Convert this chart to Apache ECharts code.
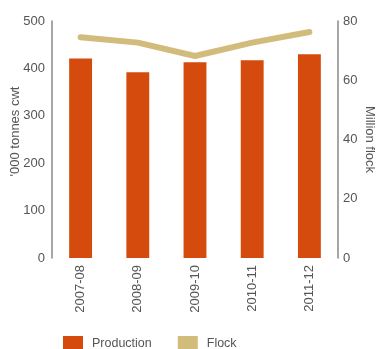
<!DOCTYPE html>
<html>
<head>
<meta charset="utf-8">
<script src="https://cdn.jsdelivr.net/npm/echarts@6/dist/echarts.min.js"></script>
<style>
  html, body { margin: 0; padding: 0; background: #fff; }
  #chart { width: 378px; height: 349px; }
</style>
</head>
<body>
<div id="chart"></div>
<script>
// Season labels and the two series
const seasons = ['2007-08', '2008-09', '2009-10', '2010-11', '2011-12'];
const production = [421, 392, 413, 417, 430];   // '000 tonnes cwt
const flock = [74.5, 72.7, 68.2, 72.7, 76.3];   // million head

const FONT = '"Liberation Sans", Arial, sans-serif';
const TEXT = '#555';
const AXIS = '#888';

const chart = echarts.init(document.getElementById('chart'), null, { renderer: 'canvas' });

chart.setOption({
  animation: false,
  textStyle: { fontFamily: FONT },
  grid: { left: 52, right: 40, top: 21, bottom: 91, containLabel: false, outerBoundsMode: 'none' },
  legend: {
    data: ['Production', 'Flock'],
    left: 58,
    top: 331,
    itemWidth: 20,
    itemHeight: 16,
    itemGap: 26,
    icon: 'rect',
    textStyle: { fontFamily: FONT, fontSize: 12.5, color: TEXT, padding: [6, 0, 0, 4] }
  },
  xAxis: {
    type: 'category',
    data: seasons,
    axisLine: { show: false },
    axisTick: { show: false },
    axisLabel: { rotate: 90, margin: 7, fontSize: 13, color: TEXT, fontFamily: FONT }
  },
  yAxis: [
    {
      type: 'value',
      min: 0, max: 500, interval: 100,
      name: "'000 tonnes cwt",
      nameLocation: 'middle',
      nameGap: 30,
      nameMoveOverlap: false,
      nameRotate: 90,
      nameTextStyle: { fontSize: 13, color: TEXT, fontFamily: FONT, padding: [0, 0, 0, 16] },
      axisLine: { show: true, lineStyle: { color: AXIS, width: 1.5 } },
      axisTick: { show: false },
      splitLine: { show: false },
      axisLabel: { margin: 7, fontSize: 13, color: TEXT, fontFamily: FONT }
    },
    {
      type: 'value',
      min: 0, max: 80, interval: 20,
      name: 'Million flock',
      nameLocation: 'middle',
      nameGap: 25,
      nameMoveOverlap: false,
      nameRotate: -90,
      nameTextStyle: { fontSize: 13, color: TEXT, fontFamily: FONT },
      axisLine: { show: true, lineStyle: { color: AXIS, width: 1.5 } },
      axisTick: { show: false },
      splitLine: { show: false },
      axisLabel: { margin: 5, fontSize: 13, color: TEXT, fontFamily: FONT }
    }
  ],
  series: [
    {
      name: 'Production',
      type: 'bar',
      yAxisIndex: 0,
      data: production,
      barWidth: '40%',
      itemStyle: { color: '#D54B0D' }
    },
    {
      name: 'Flock',
      type: 'line',
      yAxisIndex: 1,
      data: flock,
      symbol: 'none',
      z: 3,
      lineStyle: { color: '#D1BC7C', width: 6, cap: 'round', join: 'round' },
      itemStyle: { color: '#D1BC7C' }
    }
  ]
});
</script>
</body>
</html>
